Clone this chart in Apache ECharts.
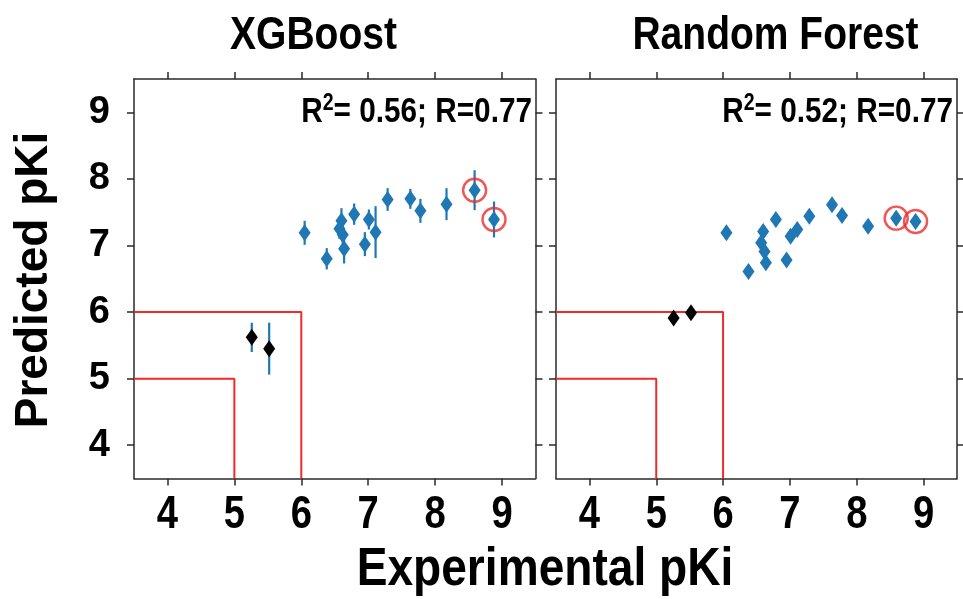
<!DOCTYPE html>
<html>
<head>
<meta charset="utf-8">
<script src="https://cdn.jsdelivr.net/npm/echarts@6/dist/echarts.min.js"></script>
<style>
  html, body { margin: 0; padding: 0; background: #fff; }
  #chart { width: 963px; height: 599px; }
</style>
</head>
<body>
<div id="chart"></div>
<script>
// Tick positions shared by every axis
const tickValues = [4, 5, 6, 7, 8, 9];
const panelTitles = ['XGBoost', 'Random Forest'];
const panelR2 = ['0.56', '0.52'];
const panelR = ['0.77', '0.77'];

// Active compounds: experimental pKi (same compounds in both panels)
const expActive = [6.05, 6.38, 6.60, 6.57, 6.62, 6.64, 6.79, 6.95, 7.01, 7.11, 7.29, 7.63, 7.78, 8.17, 8.59, 8.88];
// XGBoost predictions and their spread
const xgbPred = [7.19, 6.80, 7.37, 7.25, 7.16, 6.95, 7.47, 7.02, 7.39, 7.20, 7.69, 7.70, 7.52, 7.62, 7.83, 7.39];
const xgbErr  = [0.18, 0.16, 0.19, 0.15, 0.15, 0.22, 0.16, 0.18, 0.15, 0.39, 0.17, 0.15, 0.18, 0.24, 0.30, 0.27];
// Random Forest predictions
const rfPred  = [7.19, 6.61, 7.21, 7.04, 6.91, 6.74, 7.39, 6.78, 7.14, 7.24, 7.44, 7.61, 7.45, 7.29, 7.41, 7.36];

// Inactive compounds
const expInactive = [5.26, 5.52];
const xgbInactive = [5.62, 5.45];
const xgbInactiveErr = [0.22, 0.39];
const rfInactive = [5.91, 5.99];

// Compounds ringed in red (indices into the active arrays)
const highlighted = [14, 15];

// Activity thresholds drawn as corner boxes
const thresholds = [5, 6];
const axisMin = 3.5, axisMax = 9.5;

const FONT = "'Liberation Sans', Arial, sans-serif";
const BLUE = '#1f77b4';
const RED = '#ee2a2a';
const AXIS = '#2a2a2a';
const SQUEEZE = 0.83;   // horizontal text is drawn slightly condensed

const chart = echarts.init(document.getElementById('chart'), null, { renderer: 'canvas' });

function pairs(xs, ys) { return xs.map((x, i) => [x, ys[i]]); }

function makeXAxis(grid, pos) {
  return {
    type: 'value', gridIndex: grid, position: pos, min: axisMin, max: axisMax,
    splitLine: { show: false },
    axisLine: { show: true, onZero: false, lineStyle: { color: AXIS, width: 1.5 } },
    axisTick: { show: true, inside: false, length: 7, customValues: tickValues, lineStyle: { color: AXIS, width: 1.5 } },
    axisLabel: { show: false }
  };
}
function makeYAxis(grid, pos, labels) {
  return {
    type: 'value', gridIndex: grid, position: pos, min: axisMin, max: axisMax,
    splitLine: { show: false },
    axisLine: { show: true, onZero: false, lineStyle: { color: AXIS, width: 1.5 } },
    axisTick: { show: true, inside: false, length: 7, customValues: tickValues, lineStyle: { color: AXIS, width: 1.5 } },
    axisLabel: { show: labels, customValues: tickValues, margin: 24, fontFamily: FONT, fontWeight: 'bold', fontSize: 38, color: '#000' }
  };
}

function thresholdSeries(xi, yi) {
  return thresholds.map(t => ({
    type: 'line', xAxisIndex: xi, yAxisIndex: yi, symbol: 'none', silent: true, z: 1,
    lineStyle: { color: RED, width: 2 },
    data: [[axisMin, t], [t, t], [t, axisMin]]
  }));
}

function errorBars(xs, ys, errs, xi, yi) {
  return {
    type: 'custom', xAxisIndex: xi, yAxisIndex: yi, silent: true, z: 2,
    data: xs.map((x, i) => [x, ys[i] - errs[i], ys[i] + errs[i]]),
    renderItem(params, api) {
      const lo = api.coord([api.value(0), api.value(1)]);
      const hi = api.coord([api.value(0), api.value(2)]);
      return { type: 'line', shape: { x1: lo[0], y1: lo[1], x2: hi[0], y2: hi[1] },
               style: { stroke: BLUE, lineWidth: 2.2 } };
    }
  };
}

function pointSeries(xs, ys, color, xi, yi) {
  return {
    type: 'scatter', xAxisIndex: xi, yAxisIndex: yi, z: 3,
    symbol: 'diamond', symbolSize: [12, 17],
    itemStyle: { color: color, opacity: 1 },
    data: pairs(xs, ys)
  };
}

function ringSeries(ys, xi, yi) {
  return {
    type: 'scatter', xAxisIndex: xi, yAxisIndex: yi, z: 4,
    symbol: 'circle', symbolSize: 23,
    itemStyle: { color: 'rgba(0,0,0,0)', borderColor: RED, borderWidth: 2.4 },
    data: highlighted.map(i => [expActive[i], ys[i]])
  };
}

function label(text, x, y, size, opts) {
  return Object.assign({
    type: 'text', z: 10, x: x, y: y, scaleX: SQUEEZE,
    style: { x: 0, y: 0, align: 'center', verticalAlign: 'middle', text: text,
             fontFamily: FONT, fontWeight: 'bold', fontSize: size, fill: '#000' }
  }, opts || {});
}

function statText(i, rightX) {
  return {
    type: 'text', z: 10, x: rightX, y: 112, scaleX: 0.85,
    style: {
      x: 0, y: 0, align: 'right', verticalAlign: 'middle',
      text: '{r|R}{s|2}{r|= ' + panelR2[i] + '; R=' + panelR[i] + '}',
      rich: {
        r: { fontFamily: FONT, fontWeight: 'bold', fontSize: 35, fill: '#000', lineHeight: 40 },
        s: { fontFamily: FONT, fontWeight: 'bold', fontSize: 23, fill: '#000', verticalAlign: 'top', lineHeight: 40 }
      }
    }
  };
}

const option = {
  animation: false,
  backgroundColor: '#fff',
  grid: [
    { left: 134, top: 79, width: 401.5, height: 399.5 },
    { left: 556, top: 79, width: 401, height: 399.5 }
  ],
  xAxis: [
    makeXAxis(0, 'bottom'), makeXAxis(0, 'top'),
    makeXAxis(1, 'bottom'), makeXAxis(1, 'top')
  ],
  yAxis: [
    makeYAxis(0, 'left', true), makeYAxis(0, 'right', false),
    makeYAxis(1, 'left', false), makeYAxis(1, 'right', false)
  ],
  series: [
    ...thresholdSeries(0, 0),
    errorBars(expActive, xgbPred, xgbErr, 0, 0),
    errorBars(expInactive, xgbInactive, xgbInactiveErr, 0, 0),
    pointSeries(expActive, xgbPred, BLUE, 0, 0),
    pointSeries(expInactive, xgbInactive, '#000', 0, 0),
    ringSeries(xgbPred, 0, 0),

    ...thresholdSeries(2, 2),
    pointSeries(expActive, rfPred, BLUE, 2, 2),
    pointSeries(expInactive, rfInactive, '#000', 2, 2),
    ringSeries(rfPred, 2, 2)
  ]
};

chart.setOption(option);

// Condensed x tick labels, placed through each bottom axis scale
const graphics = [];
[0, 2].forEach(ax => {
  tickValues.forEach(v => {
    const px = chart.convertToPixel({ xAxisIndex: ax }, v);
    graphics.push(label(String(v), px, 515, 46));
  });
});
graphics.push(label(panelTitles[0], 313.5, 36, 47));
graphics.push(label(panelTitles[1], 775.5, 36, 47));
graphics.push(statText(0, 532));
graphics.push(statText(1, 953));
graphics.push(label('Experimental pKi', 545, 570, 53, { scaleX: 0.87 }));
graphics.push(label('Predicted pKi', 34, 280, 46, { scaleX: 1, rotation: Math.PI / 2 }));

chart.setOption({ graphic: graphics });
</script>
</body>
</html>
